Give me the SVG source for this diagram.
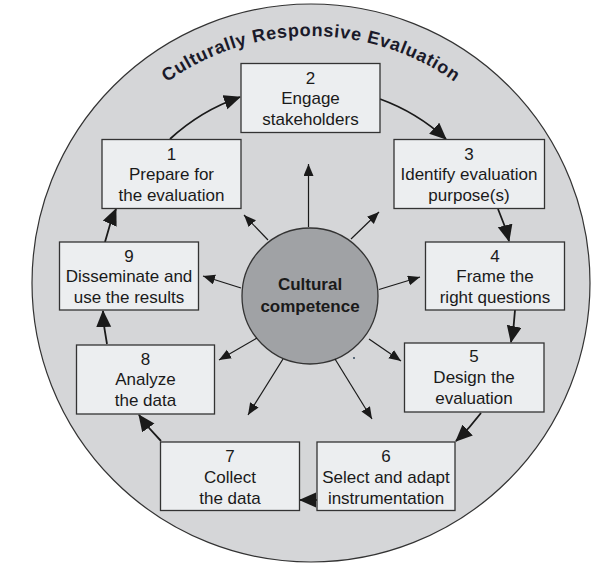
<svg xmlns="http://www.w3.org/2000/svg" width="613" height="565" viewBox="0 0 613 565">
<style>
.box{fill:#eceef0;stroke:#333;stroke-width:1.3}
.t{font-family:"Liberation Sans",Arial,sans-serif;font-size:17px;fill:#1a1a1a;text-anchor:middle}
.cyc{fill:none;stroke:#1a1a1a;stroke-width:1.8;marker-end:url(#big)}
.rad{fill:none;stroke:#1a1a1a;stroke-width:1.2;marker-end:url(#small)}
</style>
<defs>
<marker id="big" markerUnits="userSpaceOnUse" markerWidth="18" markerHeight="16" refX="16" refY="7.5" orient="auto"><path d="M0,0 L17,7.5 L0,15 z" fill="#1a1a1a"/></marker>
<marker id="small" markerUnits="userSpaceOnUse" markerWidth="13" markerHeight="11" refX="12" refY="5" orient="auto"><path d="M0,0 L12,5 L0,10 z" fill="#1a1a1a"/></marker>
<path id="arc" d="M63,284 A248,248 0 0,1 559,284"/>
</defs>
<g id="ring">
<circle cx="311" cy="283" r="279" fill="#d5d6d8" stroke="#333" stroke-width="1.2"/>
<text font-family="'Liberation Sans',Arial,sans-serif" font-size="18" font-weight="bold" fill="#1a1a2a" letter-spacing="0.7"><textPath href="#arc" startOffset="50%" text-anchor="middle">Culturally Responsive Evaluation</textPath></text>
</g>
<g id="center">
<circle cx="310" cy="296" r="68" fill="#a0a2a5" stroke="#333" stroke-width="1.3"/>
<text class="t" x="310" y="290" font-weight="bold" font-size="18.5">Cultural</text>
<text class="t" x="310" y="312" font-weight="bold" font-size="18.5">competence</text>
</g>
<g id="connectors">
<path class="cyc" d="M170,139 A200,200 0 0,1 240,97"/>
<path class="cyc" d="M380,99 A198,198 0 0,1 446,139"/>
<path class="cyc" d="M498,209 A202,202 0 0,1 509,241"/>
<path class="cyc" d="M515,310 A207,207 0 0,1 511,342"/>
<path class="cyc" d="M481,413 A214,214 0 0,1 456,441"/>
<path class="cyc" d="M317,500 L300,500"/>
<path class="cyc" d="M161,441 A217,217 0 0,1 139,415"/>
<path class="cyc" d="M107,344 A212,212 0 0,1 103,311"/>
<path class="cyc" d="M105,242 A210,210 0 0,1 116,209"/>
<path class="rad" d="M308.5,227 L308.5,164"/>
<path class="rad" d="M268,240 L244,215"/>
<path class="rad" d="M351,239 L379,212"/>
<path class="rad" d="M379,289.5 L420,277"/>
<path class="rad" d="M241,288 L203,276"/>
<path class="rad" d="M369,339 L401,361"/>
<path class="rad" d="M257,338 L219,360"/>
<path class="rad" d="M283,359 L248,415"/>
<path class="rad" d="M335,359 L372,419"/>
</g>
<rect x="353" y="357" width="2" height="2" fill="#5a6a7a"/>
<g id="n1"><rect class="box" x="102" y="139.5" width="139" height="69"/>
<text class="t" x="171.5" y="159.5">1</text><text class="t" x="171.5" y="180.3">Prepare for</text><text class="t" x="171.5" y="201">the evaluation</text></g>
<g id="n2"><rect class="box" x="241" y="63.5" width="139" height="69"/>
<text class="t" x="310.5" y="83.5">2</text><text class="t" x="310.5" y="104.3">Engage</text><text class="t" x="310.5" y="125">stakeholders</text></g>
<g id="n3"><rect class="box" x="394" y="139.5" width="150.5" height="69"/>
<text class="t" x="469" y="159.5">3</text><text class="t" x="469" y="180.3">Identify evaluation</text><text class="t" x="469" y="201">purpose(s)</text></g>
<g id="n4"><rect class="box" x="425.5" y="242" width="139" height="68"/>
<text class="t" x="495" y="261.5">4</text><text class="t" x="495" y="282.3">Frame the</text><text class="t" x="495" y="303">right questions</text></g>
<g id="n5"><rect class="box" x="404.5" y="343" width="139.5" height="69"/>
<text class="t" x="474" y="362">5</text><text class="t" x="474" y="383.3">Design the</text><text class="t" x="474" y="404">evaluation</text></g>
<g id="n6"><rect class="box" x="317" y="442" width="138" height="68.5"/>
<text class="t" x="386" y="462">6</text><text class="t" x="386" y="483">Select and adapt</text><text class="t" x="386" y="503.5">instrumentation</text></g>
<g id="n7"><rect class="box" x="160.5" y="442" width="139" height="68.5"/>
<text class="t" x="230" y="462">7</text><text class="t" x="230" y="483">Collect</text><text class="t" x="230" y="503.5">the data</text></g>
<g id="n8"><rect class="box" x="76.5" y="345" width="138" height="69"/>
<text class="t" x="145.5" y="364.5">8</text><text class="t" x="145.5" y="385.3">Analyze</text><text class="t" x="145.5" y="406">the data</text></g>
<g id="n9"><rect class="box" x="59.5" y="242" width="139" height="68"/>
<text class="t" x="129" y="261.5">9</text><text class="t" x="129" y="282.3">Disseminate and</text><text class="t" x="129" y="303">use the results</text></g>
</svg>
